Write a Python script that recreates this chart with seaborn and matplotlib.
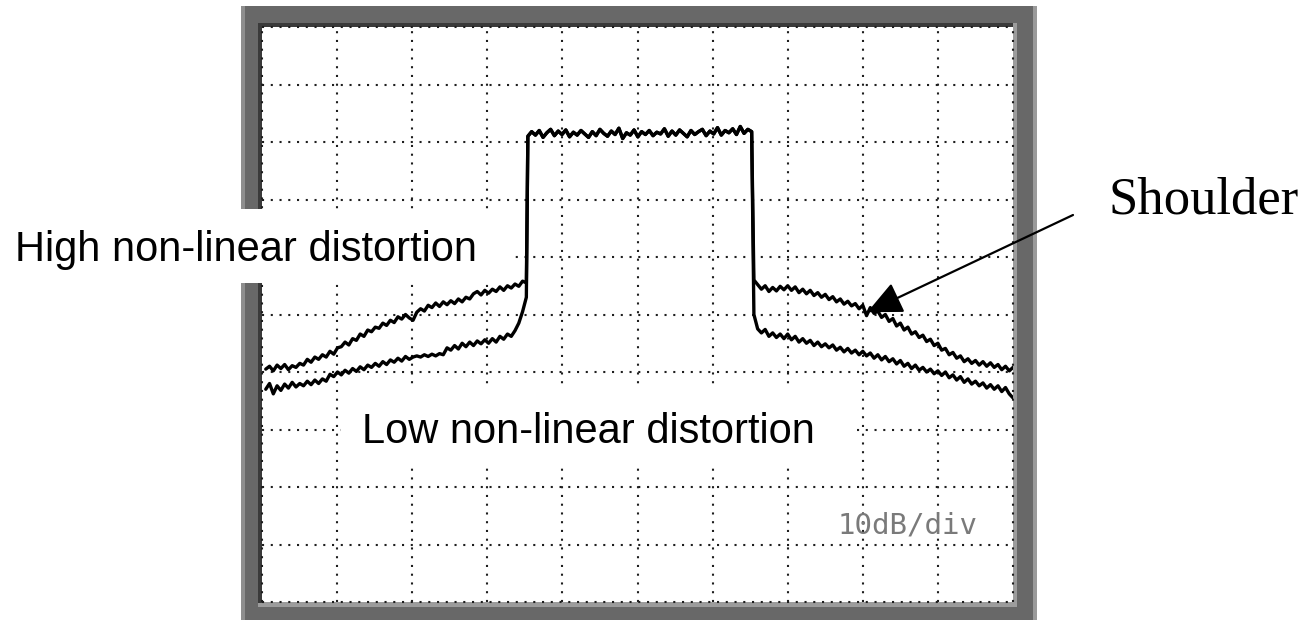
import numpy as np
import pandas as pd
import matplotlib
matplotlib.use("Agg")
import matplotlib.pyplot as plt
from matplotlib.patches import Rectangle
import seaborn as sns

# ---------------- data (screen divisions: x 0..10, y 0..10 from bottom, 10 dB/div) ----------------
left_high = [4.05, 4.10, 4.02, 4.12, 4.06, 4.13, 4.04, 4.11, 4.08, 4.15,
             4.12, 4.22, 4.17, 4.26, 4.22, 4.30, 4.26, 4.36, 4.31, 4.42,
             4.44, 4.52, 4.47, 4.58, 4.55, 4.66, 4.62, 4.73, 4.70, 4.78,
             4.76, 4.85, 4.81, 4.90, 4.86, 4.96, 4.92, 5.00, 4.94, 4.90,
             5.04, 5.10, 5.06, 5.16, 5.12, 5.20, 5.14, 5.22, 5.17, 5.24,
             5.19, 5.27, 5.22, 5.30, 5.27, 5.36, 5.40, 5.34, 5.42, 5.37,
             5.44, 5.40, 5.48, 5.42, 5.50, 5.46, 5.53, 5.49, 5.58, 5.55]
left_low = [3.70, 3.80, 3.62, 3.76, 3.68, 3.79, 3.72, 3.82, 3.74, 3.80,
            3.76, 3.84, 3.78, 3.86, 3.80, 3.88, 3.84, 3.96, 3.92, 4.00,
            3.95, 4.03, 3.98, 4.06, 4.01, 4.09, 4.04, 4.12, 4.08, 4.15,
            4.10, 4.18, 4.13, 4.21, 4.17, 4.24, 4.19, 4.27, 4.22, 4.26,
            4.28, 4.26, 4.30, 4.27, 4.31, 4.28, 4.32, 4.30, 4.42, 4.38,
            4.46, 4.40, 4.50, 4.44, 4.52, 4.46, 4.54, 4.49, 4.56, 4.50,
            4.58, 4.52, 4.62, 4.57, 4.66, 4.62, 4.72, 4.85, 5.05, 5.30]
main_signal = [8.10, 8.18, 8.12, 8.20, 8.08, 8.16, 8.22, 8.11, 8.19, 8.13,
               8.21, 8.09, 8.17, 8.12, 8.20, 8.14, 8.08, 8.18, 8.11, 8.22,
               8.15, 8.10, 8.19, 8.13, 8.24, 8.06, 8.16, 8.12, 8.21, 8.09,
               8.18, 8.13, 8.20, 8.11, 8.17, 8.14, 8.23, 8.10, 8.19, 8.12,
               8.21, 8.15, 8.09, 8.20, 8.13, 8.18, 8.22, 8.11, 8.19, 8.14,
               8.25, 8.12, 8.20, 8.16, 8.23, 8.13, 8.27, 8.15, 8.22, 8.18]
right_high = [5.60, 5.52, 5.44, 5.50, 5.40, 5.47, 5.41, 5.49, 5.43, 5.50,
              5.42, 5.48, 5.38, 5.44, 5.36, 5.42, 5.33, 5.38, 5.30, 5.35,
              5.26, 5.31, 5.22, 5.27, 5.18, 5.23, 5.15, 5.19, 5.10, 5.16,
              4.98, 5.12, 5.02, 5.06, 4.95, 5.00, 4.88, 4.93, 4.80, 4.85,
              4.73, 4.78, 4.66, 4.70, 4.60, 4.64, 4.53, 4.57, 4.46, 4.50,
              4.38, 4.41, 4.30, 4.34, 4.24, 4.28, 4.18, 4.23, 4.15, 4.20,
              4.12, 4.18, 4.10, 4.16, 4.08, 4.13, 4.04, 4.10, 4.02, 4.08]
right_low = [5.00, 4.75, 4.68, 4.74, 4.62, 4.68, 4.60, 4.66, 4.58, 4.66,
             4.56, 4.62, 4.52, 4.58, 4.50, 4.55, 4.46, 4.52, 4.44, 4.49,
             4.42, 4.47, 4.38, 4.43, 4.35, 4.41, 4.33, 4.38, 4.30, 4.36,
             4.28, 4.33, 4.24, 4.30, 4.21, 4.27, 4.18, 4.23, 4.14, 4.20,
             4.10, 4.15, 4.06, 4.12, 4.03, 4.08, 4.00, 4.05, 3.97, 4.02,
             3.94, 4.00, 3.90, 3.95, 3.86, 3.92, 3.82, 3.88, 3.79, 3.84,
             3.76, 3.81, 3.72, 3.78, 3.70, 3.76, 3.66, 3.73, 3.62, 3.55]

# sweep span (divisions) of each segment
left_span = (0.05, 3.52)
main_span = (3.54, 6.52)
right_span = (6.55, 10.0)

labels = {"high": "High non-linear distortion",
          "low": "Low non-linear distortion",
          "shoulder": "Shoulder",
          "scale": "10dB/div"}


def sweep(span, vals):
    return np.linspace(span[0], span[1], len(vals))


def trace(left, right, name):
    x = np.concatenate([sweep(left_span, left), sweep(main_span, main_signal), sweep(right_span, right)])
    y = np.concatenate([left, main_signal, right])
    return pd.DataFrame({"x": x, "y": y, "trace": name})


df = pd.concat([trace(left_high, right_high, "high"), trace(left_low, right_low, "low")], ignore_index=True)

# ---------------- figure ----------------
sns.set_style("white")
W, H = 1304, 620
fig = plt.figure(figsize=(W / 100, H / 100), dpi=100)
fig.patch.set_facecolor("white")


def fx(px):
    return px / W


def fy(py):
    return (H - py) / H


def frect(x0, y0, x1, y1, color, z):
    fig.add_artist(Rectangle((fx(x0), fy(y1)), fx(x1) - fx(x0), fy(y0) - fy(y1),
                             transform=fig.transFigure, facecolor=color, edgecolor="none", zorder=z))


# instrument bezel
frect(241, 6, 1037, 625, "#686868", -5)
frect(241, 6, 245, 625, "#8e8e8e", -4)
frect(1033, 6, 1037, 625, "#9a9a9a", -4)
frect(258, 23, 1017, 607, "#9c9c9c", -3)
frect(258, 23, 1013, 27, "#3a3a3a", -2)
frect(258, 23, 262, 603, "#3a3a3a", -2)

ax = fig.add_axes([fx(262), fy(602), fx(1013) - fx(262), fy(27) - fy(602)])
ax.set_zorder(1)
ax.set_facecolor("white")

for name, sub in df.groupby("trace"):
    sns.lineplot(data=sub, x="x", y="y", sort=False, estimator=None, color="black",
                 linewidth=2.4, ax=ax)

ax.set_xlim(0, 10)
ax.set_ylim(0, 10)
ax.set_xticks(range(11))
ax.set_yticks(range(11))
ax.tick_params(length=0, labelbottom=False, labelleft=False)
ax.set_xlabel("")
ax.set_ylabel("")
for s in ax.spines.values():
    s.set_visible(False)
ax.set_axisbelow(True)
ax.grid(True, color="#1e1e1e", linestyle=(0, (1, 3.2)), linewidth=1.5)
for gl in ax.get_xgridlines() + ax.get_ygridlines():
    gl.set_clip_on(False)

# scale text
ax.text(fx(908 - 262) / (fx(1013) - fx(262)), (fy(525) - fy(602)) / (fy(27) - fy(602)),
        labels["scale"], transform=ax.transAxes, ha="center", va="center",
        fontsize=21, family="DejaVu Sans Mono", color="#7a7a7a")

# white label boxes over the screen
frect(0, 209, 512, 283, "white", 3)
frect(341, 389, 855, 462, "white", 3)

fig.text(fx(15), fy(261), labels["high"], fontsize=30, family="Liberation Sans",
         color="black", ha="left", va="baseline", zorder=4)
fig.text(fx(362), fy(443), labels["low"], fontsize=30, family="Liberation Sans",
         color="black", ha="left", va="baseline", zorder=4)
fig.text(fx(1108), fy(213), labels["shoulder"], fontsize=38, family="Liberation Serif",
         color="black", ha="left", va="baseline", zorder=4)

ax.annotate("", xy=(8.06, 5.04), xycoords="data",
            xytext=(1073, H - 215), textcoords="figure pixels",
            arrowprops=dict(arrowstyle="-|>,head_length=1.08,head_width=0.5",
                            mutation_scale=20, lw=1.6, color="black",
                            shrinkA=0, shrinkB=0),
            annotation_clip=False, zorder=6)

fig.savefig("out.png", dpi=100, facecolor="white")
